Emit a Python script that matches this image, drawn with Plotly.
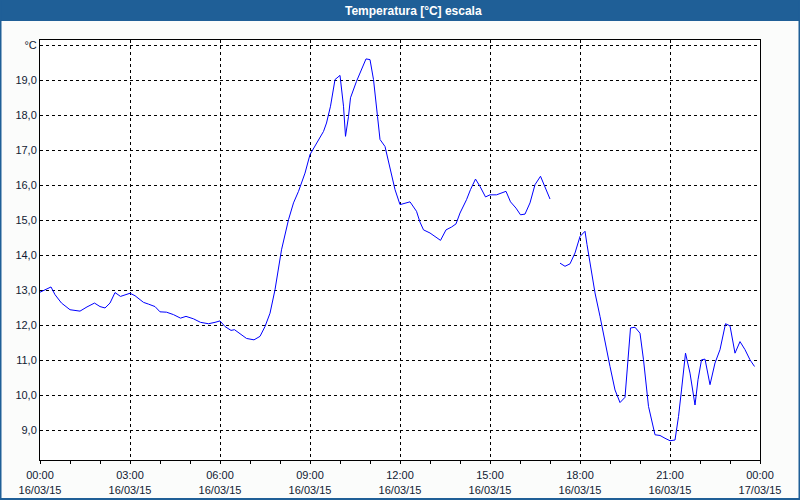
import plotly.graph_objects as go

# ---- data ----
times = ["00:00","00:08","00:22","00:30","00:43","01:00","01:20","01:34","01:49","02:00",
         "02:10","02:20","02:30","02:41","02:53","03:00","03:10","03:27","03:37","03:50",
         "04:00","04:13","04:27","04:41","04:52","05:07","05:21","05:37","05:50","06:00",
         "06:10","06:22","06:29","06:40","06:53","07:08","07:20","07:30","07:40","07:50",
         "07:57","08:03","08:17","08:27","08:37","08:50","09:00","09:13","09:27","09:33",
         "09:41","09:50","10:00","10:07","10:11","10:17","10:21","10:33","10:43","10:52",
         "11:00","11:07","11:15","11:20","11:30","11:40","11:50","12:00","12:10","12:20",
         "12:33","12:40","12:47","13:00","13:10","13:21","13:32","13:43","13:52","14:00",
         "14:13","14:21","14:31","14:40","14:51","15:00","15:13","15:23","15:32","15:41",
         "15:52","16:01","16:10","16:20","16:30","16:41","16:50","17:00","17:10","17:20",
         "17:30","17:40","17:50","18:00","18:10","18:14","18:23","18:30","18:40","18:50",
         "19:00","19:10","19:20","19:30","19:35","19:41","19:50","20:00","20:07","20:17",
         "20:30","20:40","20:50","21:00","21:10","21:17","21:23","21:31","21:40","21:50",
         "21:56","22:03","22:10","22:20","22:30","22:40","22:51","23:00","23:10","23:20",
         "23:30","23:40","23:49"]
temps = [12.95,13.00,13.10,12.88,12.64,12.45,12.41,12.53,12.64,12.54,
         12.50,12.64,12.94,12.83,12.90,12.92,12.85,12.66,12.61,12.54,
         12.39,12.38,12.31,12.21,12.26,12.19,12.09,12.05,12.09,12.13,
         11.97,11.86,11.88,11.76,11.63,11.59,11.69,11.97,12.35,13.02,
         13.59,14.16,15.02,15.50,15.83,16.35,16.88,17.21,17.54,17.78,
         18.26,19.02,19.14,18.26,17.40,17.97,18.50,18.97,19.31,19.61,
         19.59,19.02,17.97,17.31,17.11,16.45,15.88,15.45,15.50,15.53,
         15.26,14.95,14.73,14.64,14.54,14.43,14.73,14.81,14.90,15.21,
         15.59,15.88,16.18,15.97,15.67,15.73,15.73,15.78,15.83,15.53,
         15.35,15.16,15.18,15.50,16.02,16.26,15.97,15.61,None,13.78,
         13.69,13.76,14.07,14.54,14.69,14.31,13.59,12.93,12.26,11.50,
         10.83,10.16,9.80,9.95,10.93,11.93,11.95,11.78,11.02,9.69,
         8.88,8.86,8.78,8.71,8.73,9.40,10.16,11.21,10.64,9.73,
         10.45,11.02,11.04,10.31,10.93,11.31,12.05,11.99,11.21,11.54,
         11.31,11.02,10.83]
day = "2015-03-16"

x_tick_vals = ["2015-03-16 00:00","2015-03-16 03:00","2015-03-16 06:00","2015-03-16 09:00",
               "2015-03-16 12:00","2015-03-16 15:00","2015-03-16 18:00","2015-03-16 21:00",
               "2015-03-17 00:00"]
x_tick_labels = ["00:00<br>16/03/15","03:00<br>16/03/15","06:00<br>16/03/15","09:00<br>16/03/15",
                 "12:00<br>16/03/15","15:00<br>16/03/15","18:00<br>16/03/15","21:00<br>16/03/15",
                 "00:00<br>17/03/15"]
y_tick_vals = [9, 10, 11, 12, 13, 14, 15, 16, 17, 18, 19, 20]
y_tick_labels = ["9,0","10,0","11,0","12,0","13,0","14,0","15,0","16,0","17,0","18,0","19,0","°C"]
title_text = "Temperatura [°C] escala"

# ---- figure ----
W, H = 800, 500
L, R, T, B = 40, 40, 40, 40
PW, PH = W - L - R, H - T - B

def px(xp):
    return (xp - L) / PW

def py(yp):
    return (H - B - yp) / PH

x = [f"{day} {t}" for t in times]
font_family = "Liberation Sans, Arial, sans-serif"
label_color = "#111a33"
bar_color = "#1f5f97"

fig = go.Figure()
fig.add_trace(go.Scatter(x=x, y=temps, mode="lines",
                         line=dict(color="#0000ff", width=1),
                         connectgaps=False, hoverinfo="x+y"))

fig.update_layout(
    width=W, height=H,
    margin=dict(l=L, r=R, t=T, b=B, autoexpand=False),
    paper_bgcolor="#fbfcfb",
    plot_bgcolor="#ffffff",
    showlegend=False,
    font=dict(family=font_family, size=11, color=label_color),
    shapes=[
        dict(type="rect", xref="paper", yref="paper",
             x0=px(0), x1=px(W), y0=py(21), y1=py(0),
             fillcolor=bar_color, line=dict(width=0), layer="below"),
        dict(type="rect", xref="paper", yref="paper",
             x0=px(0.5), x1=px(W - 0.5), y0=py(H - 1), y1=py(0),
             fillcolor="rgba(0,0,0,0)", line=dict(color=bar_color, width=2)),
    ],
    annotations=[
        dict(text=f"<b>{title_text}</b>", xref="paper", yref="paper",
             x=px(413), y=py(10.5), xanchor="center", yanchor="middle",
             showarrow=False, font=dict(family=font_family, size=12, color="white")),
    ],
)

fig.update_xaxes(
    type="date", automargin=False,
    range=["2015-03-16 00:00", "2015-03-17 00:00"],
    tickmode="array", tickvals=x_tick_vals, ticktext=x_tick_labels,
    showgrid=True, gridcolor="#000000", gridwidth=1, griddash="3px,3px",
    showline=True, linecolor="#000000", linewidth=1, mirror=True,
    ticks="outside", ticklen=3, tickcolor="#000000", tickwidth=1,
    ticklabelstandoff=2,
    minor=dict(dtick=3600000, ticks="outside", ticklen=3, tickcolor="#000000",
               showgrid=False),
    zeroline=False,
    tickfont=dict(size=11, color=label_color),
)
fig.update_yaxes(
    range=[8.16, 20.15], automargin=False,
    tickmode="array", tickvals=y_tick_vals, ticktext=y_tick_labels,
    showgrid=True, gridcolor="#000000", gridwidth=1, griddash="3px,3px",
    showline=True, linecolor="#000000", linewidth=1, mirror=True,
    ticks="", zeroline=False,
    tickfont=dict(size=11, color=label_color),
)

fig.write_html("out.html",
               config={"displayModeBar": False},
               post_script="document.body.style.margin='0';document.body.style.padding='0';")
